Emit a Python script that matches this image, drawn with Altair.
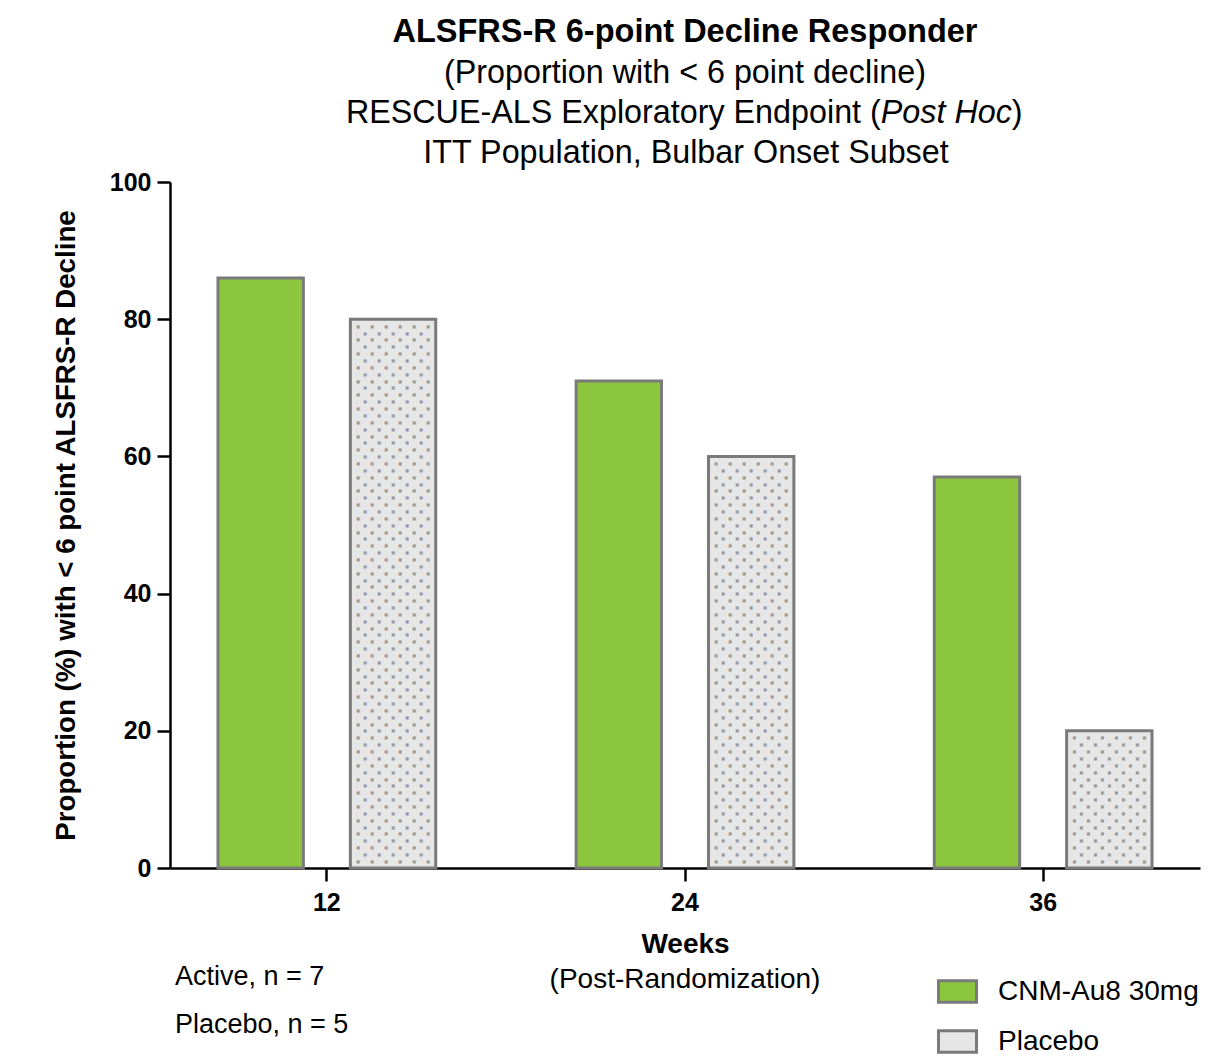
import altair as alt
import pandas as pd

weeks = ["12", "24", "36"]
groups = ["CNM-Au8 30mg", "Placebo"]
active_values = [86, 71, 57]
placebo_values = [80, 60, 20]
y_ticks = [0, 20, 40, 60, 80, 100]

rows = []
for w, a, p in zip(weeks, active_values, placebo_values):
    rows.append({"week": w, "group": groups[0], "value": a})
    rows.append({"week": w, "group": groups[1], "value": p})
df = pd.DataFrame(rows)

# dotted texture for placebo bars (decoration derived from placebo values)
dots = []
for w, p in zip(weeks, placebo_values):
    k = 0
    yv = 0.9
    while yv < p - 0.6:
        dots.append({"week": w, "group": groups[1], "y": yv, "row": k % 2})
        yv += 1.0
        k += 1
dots_df = pd.DataFrame(dots)

FONT = "Liberation Sans"

x_enc = alt.X(
    "week:N",
    scale=alt.Scale(domain=weeks, paddingInner=0.392, paddingOuter=0.134),
    axis=alt.Axis(
        title="Weeks", labelAngle=0, labelFont=FONT, labelFontSize=25,
        labelFontWeight="bold", labelColor="black", labelPadding=9,
        titleFont=FONT, titleFontSize=28, titleFontWeight="bold",
        titleColor="black", titlePadding=15,
        domainColor="black", domainWidth=2.5, tickColor="black",
        tickWidth=2.5, tickSize=13,
    ),
)
xo_enc = alt.XOffset(
    "group:N", scale=alt.Scale(domain=groups, paddingInner=0.355, paddingOuter=0)
)
y_scale = alt.Scale(domain=[0, 100], nice=False)

bars = alt.Chart(df).mark_bar(stroke="#7a7a7a", strokeWidth=3).encode(
    x=x_enc,
    xOffset=xo_enc,
    y=alt.Y(
        "value:Q",
        scale=y_scale,
        axis=alt.Axis(
            values=y_ticks, grid=False, title="Proportion (%) with < 6 point ALSFRS-R Decline",
            labelFont=FONT, labelFontSize=25, labelFontWeight="bold",
            labelColor="black", labelPadding=6,
            titleFont=FONT, titleFontSize=27.7, titleFontWeight="bold",
            titleColor="black", titlePadding=29,
            domainColor="black", domainWidth=2.5, tickColor="black",
            tickWidth=2.5, tickSize=13,
        ),
    ),
    color=alt.Color(
        "group:N",
        scale=alt.Scale(domain=groups, range=["#8cc63f", "#e6e6e6"]),
        legend=alt.Legend(
            title=None, orient="none", legendX=767, legendY=789,
            symbolType="M-1,-0.56H1V0.56H-1Z", symbolSize=1444,
            symbolStrokeColor="#7a7a7a", symbolStrokeWidth=3,
            labelFont=FONT, labelFontSize=28, labelColor="black",
            labelOffset=20, rowPadding=12, padding=0, labelLimit=400,
        ),
    ),
)

dot_layers = []
for offs, parity in [([-35, -21, -7, 7, 21, 35], 0), ([-28, -14, 0, 14, 28], 1)]:
    for dx in offs:
        dot_layers.append(
            alt.Chart(dots_df)
            .transform_filter(alt.datum.row == parity)
            .mark_text(text="\u25a0", font="DejaVu Sans", fontSize=4,
                       color="#9a9a9a", dx=dx, align="center", baseline="middle")
            .encode(x=x_enc, xOffset=xo_enc, y=alt.Y("y:Q", scale=y_scale))
        )


def label(text, x, y, size, align="left", style="normal", weight="normal"):
    return alt.Chart(pd.DataFrame({"t": [text]})).mark_text(
        font=FONT, fontSize=size, align=align, baseline="middle", color="black",
        fontStyle=style, fontWeight=weight,
    ).encode(text="t:N", x=alt.value(x), y=alt.value(y))


note1 = label("Active, n = 7", 5, 795, 27)
note2 = label("Placebo, n = 5", 5, 843, 27)
subx = label("(Post-Randomization)", 515, 798, 28, align="center")

# title block
title1 = label("ALSFRS-R 6-point Decline Responder", 515, -150, 32.5, align="center", weight="bold")
sub1 = label("(Proportion with < 6 point decline)", 515, -109, 32.3, align="center")
sub_a = label("RESCUE-ALS Exploratory Endpoint (", 710.8, -69, 32.3, align="right")
sub_b = label("Post Hoc", 710.8, -69, 32.3, style="italic")
sub_c = label(")", 841.8, -69, 32.3)
sub3 = label("ITT Population, Bulbar Onset Subset", 516, -29, 32.3, align="center")

chart = (
    alt.layer(bars, *dot_layers, note1, note2, subx,
              title1, sub1, sub_a, sub_b, sub_c, sub3)
    .properties(
        width=1030,
        height=686,
        background="white",
        autosize=alt.AutoSizeParams(type="none"),
        padding={"left": 162, "top": 174, "right": 16, "bottom": 190},
    )
    .configure_view(strokeWidth=0, stroke="transparent")
)

chart.save("out.html", embed_options={"renderer": "svg", "actions": False})
